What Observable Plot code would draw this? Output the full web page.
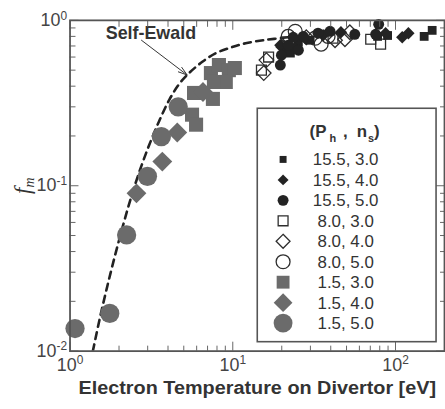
<!DOCTYPE html>
<html><head><meta charset="utf-8">
<script src="https://cdn.jsdelivr.net/npm/d3@7"></script>
<script src="https://cdn.jsdelivr.net/npm/@observablehq/plot@0.6"></script>
<style>
html,body{margin:0;padding:0;background:#fff;overflow:hidden;}
#chart{width:445px;height:409px;overflow:hidden;position:relative;}
</style></head><body><div id="chart"></div>
<script>
// ---- data (Te [eV], f_m) ----
const seriesLabels = ["15.5, 3.0","15.5, 4.0","15.5, 5.0","8.0, 3.0","8.0, 4.0","8.0, 5.0","1.5, 3.0","1.5, 4.0","1.5, 5.0"];
const ph155ns30 = [[150,0.80],[168,0.87],[77.6,0.80],[89.4,0.81],[20.5,0.66],[25.3,0.738],[22.6,0.634],[29.9,0.758]];
const ph155ns40 = [[110,0.79],[120,0.836],[46.2,0.847],[86.9,0.836],[19.6,0.708],[27.9,0.78],[23.9,0.679],[35.9,0.813]];
const ph155ns50 = [[19.6,0.537],[78.8,0.946],[56.2,0.824],[39.6,0.859],[33.4,0.836],[21.9,0.708],[23.5,0.79],[27.1,0.80],[75.5,0.824],[19.9,0.616],[25.3,0.66]];
const ph80ns30 = [[15.0,0.50],[16.6,0.60],[21.3,0.738],[41.3,0.78],[70.4,0.769],[81.0,0.718]];
const ph80ns40 = [[15.5,0.48],[16.1,0.575],[20.5,0.69],[28.3,0.79],[42.5,0.758],[48.9,0.769],[52.4,0.847]];
const ph80ns50 = [[24.2,0.859],[23.5,0.698],[32.1,0.78],[38.5,0.80],[34.9,0.718],[21.9,0.80]];
const ph15ns30 = [[5.78,0.364],[7.55,0.335],[5.62,0.269],[5.95,0.234],[7.34,0.48],[8.22,0.537],[9.46,0.50],[9.06,0.424],[7.66,0.424],[10.3,0.515]];
const ph15ns40 = [[2.56,0.090],[3.69,0.140],[4.56,0.21],[6.56,0.369]];
const ph15ns50 = [[1.073,0.0137],[1.754,0.0169],[2.227,0.0504],[2.99,0.114],[3.64,0.198],[4.62,0.30]];
// Self-Ewald curve
const ewaldT = [1.381,1.524,1.681,1.881,2.105,2.355,2.672,3.074,3.538,4.072,4.685,5.393,6.471,7.877,9.861,12.0,15.45,21.96];
const ewaldF = [0.0100,0.01578,0.02389,0.03721,0.05633,0.08295,0.1222,0.1775,0.2474,0.3308,0.4126,0.4805,0.5595,0.6336,0.6884,0.7273,0.7585,0.7904];
// annotation
const annotText = ["Self-Ewald"];
const annotPos = [[3.14, 0.83]];
const arrowFrom = [[2.748, 0.758]];
const arrowTo = [[5.243, 0.4674]];
// ticks
const xMajor = [1, 10, 100];
const xMinor = [2,3,4,5,6,7,8,9,20,30,40,50,60,70,80,90];
const yMajor = [0.01, 0.1, 1];
const yMinor = [0.02,0.03,0.04,0.05,0.06,0.07,0.08,0.09,0.2,0.3,0.4,0.5,0.6,0.7,0.8,0.9];
const xTitle = "Electron Temperature on Divertor [eV]";

// ---- styles ----
const BLACK = "#232323", GRAY = "#6b6b6b", LINE = "#2e2e2e";
const seriesData = [ph155ns30, ph155ns40, ph155ns50, ph80ns30, ph80ns40, ph80ns50, ph15ns30, ph15ns40, ph15ns50];
const seriesStyle = [
  {symbol:"square",   r:5.0, lr:3.95, fill:BLACK, stroke:"none"},
  {symbol:"diamond2", r:5.6, lr:4.95, fill:BLACK, stroke:"none"},
  {symbol:"circle",   r:5.5, lr:5.5,  fill:BLACK, stroke:"none"},
  {symbol:"square",   r:5.6, lr:5.6,  fill:"none", stroke:LINE},
  {symbol:"diamond2", r:6.6, lr:6.3,  fill:"none", stroke:LINE},
  {symbol:"circle",   r:7.0, lr:7.0,  fill:"none", stroke:LINE},
  {symbol:"square",   r:8.0, lr:7.3,  fill:GRAY, stroke:"none"},
  {symbol:"diamond2", r:9.0, lr:8.5,  fill:GRAY, stroke:"none"},
  {symbol:"circle",   r:9.7, lr:9.5,  fill:GRAY, stroke:"none"}
];

const rows = [];
seriesData.forEach((pts, i) => pts.forEach(([T, f]) => rows.push({T, f, s: i})));
const curve = ewaldT.map((T, i) => ({T, f: ewaldF[i]}));
const annot = annotText.map((t, i) => ({t, T: annotPos[i][0], f: annotPos[i][1]}));
const arrows = arrowFrom.map((a, i) => ({x1: a[0], y1: a[1], x2: arrowTo[i][0], y2: arrowTo[i][1]}));

const tickStyle = {stroke: "#666", strokeWidth: 1};
const supFmt = d => "10^" + Math.round(Math.log10(d));

const dotOrder = [6,7,8,3,4,5,0,1,2];
const chart = Plot.plot({
  width: 448, height: 409,
  marginLeft: 70, marginRight: 1, marginTop: 20, marginBottom: 56,
  x: {type: "log", domain: [1, 200]},
  y: {type: "log", domain: [0.01, 1]},
  style: {fontFamily: "'Liberation Sans', Arial, sans-serif", background: "white", color: "#3a3a3a"},
  marks: [
    Plot.line(curve, {x: "T", y: "f", curve: "catmull-rom", stroke: "#222", strokeWidth: 2.6, strokeDasharray: "7,5.5", clip: true}),
    ...dotOrder.map(i => Plot.dot(rows.filter(d => d.s === i), {
      x: "T", y: "f", symbol: seriesStyle[i].symbol, r: seriesStyle[i].r,
      fill: seriesStyle[i].fill, stroke: seriesStyle[i].stroke, strokeWidth: 1.3
    })),
    Plot.arrow(arrows, {x1: "x1", y1: "y1", x2: "x2", y2: "y2", stroke: "#333", strokeWidth: 1, headLength: 14, headAngle: 35}),
    Plot.text(annot, {x: "T", y: "f", text: "t", fontSize: 18, fontWeight: "bold", fill: "#333", textAnchor: "middle"}),
    // bottom axis
    Plot.axisX({anchor: "bottom", ticks: xMinor, tickSize: -5, tickFormat: () => "", ...tickStyle}),
    Plot.axisX({anchor: "bottom", ticks: xMajor, tickSize: -9, tickFormat: () => "", ...tickStyle}),
    Plot.axisX({anchor: "bottom", ticks: xMajor, tickSize: 0, tickPadding: 7, tickFormat: supFmt, fontSize: 17, fill: "#444", label: null}),
    // top axis
    Plot.axisX({anchor: "top", ticks: xMinor, tickSize: -6, tickFormat: () => "", label: null, ...tickStyle}),
    Plot.axisX({anchor: "top", ticks: xMajor, tickSize: -9, tickFormat: () => "", label: null, ...tickStyle}),
    // left axis
    Plot.axisY({anchor: "left", ticks: yMinor, tickSize: -6, tickFormat: () => "", ...tickStyle}),
    Plot.axisY({anchor: "left", ticks: yMajor, tickSize: -9, tickFormat: () => "", ...tickStyle}),
    Plot.axisY({anchor: "left", ticks: yMajor, tickSize: 0, tickPadding: 3, tickFormat: supFmt, fontSize: 17, fill: "#444", label: null}),
    // right axis
    Plot.axisY({anchor: "right", ticks: yMinor, tickSize: -5, tickFormat: () => "", label: null, ...tickStyle}),
    Plot.axisY({anchor: "right", ticks: yMajor, tickSize: -9, tickFormat: () => "", label: null, ...tickStyle}),
    Plot.frame({stroke: "#555", strokeWidth: 1.8})
  ]
});
document.getElementById("chart").appendChild(chart);

const svg = d3.select(chart);
// superscript tick labels
svg.selectAll('g[aria-label="x-axis tick label"] text, g[aria-label="y-axis tick label"] text').each(function() {
  const t = this.textContent;
  if (!t.includes("^")) return;
  const [b, e] = t.split("^");
  const s = d3.select(this);
  s.text(null);
  s.style("font-size", "18px").attr("fill", "#444");
  s.append("tspan").text(b);
  s.append("tspan").attr("dy", "-0.55em").style("font-size", "12px").text(e);
});
// remove any default axis labels
svg.selectAll('g[aria-label="x-axis label"], g[aria-label="y-axis label"]').remove();

// x title
svg.append("text").attr("x", 259).attr("y", 397).attr("text-anchor", "middle")
  .attr("font-family", "'Liberation Sans', Arial, sans-serif").attr("font-weight", "bold")
  .style("font-size", "19px").attr("fill", "#333")
  .attr("textLength", 360).attr("lengthAdjust", "spacingAndGlyphs").text(xTitle);
// y title f_m
const yt = svg.append("text").attr("transform", "translate(30,187) rotate(-90)").attr("text-anchor", "middle")
  .attr("font-family", "'Liberation Serif', 'Times New Roman', serif").attr("font-style", "italic")
  .style("font-size", "23px").attr("fill", "#333");
yt.append("tspan").text("f");
yt.append("tspan").attr("dy", "0.3em").style("font-size", "14px").text("m");

// legend
const lg = svg.append("g").attr("font-family", "'Liberation Sans', Arial, sans-serif");
lg.append("rect").attr("x", 259).attr("y", 109).attr("width", 180).attr("height", 235)
  .attr("fill", "#fff").attr("stroke", "#555").attr("stroke-width", 1.6);
const hd = lg.append("text").attr("x", 347).attr("y", 138).style("font-size", "17px").attr("font-weight", "bold").attr("fill", "#333");
hd.append("tspan").text("(P");
hd.append("tspan").attr("dx", 3).attr("dy", 5).style("font-size", "11px").text("h");
hd.append("tspan").attr("dx", 7).attr("dy", -5).style("font-size", "17px").text(",");
hd.append("tspan").attr("dx", 9).text("n");
hd.append("tspan").attr("dx", 1).attr("dy", 5).style("font-size", "11px").text("s");
hd.append("tspan").attr("dy", -5).style("font-size", "17px").text(")");
const symMap = {square: d3.symbolSquare, diamond2: d3.symbolDiamond2, circle: d3.symbolCircle};
seriesLabels.forEach((lab, i) => {
  const cy = 160.5 + i * 20.6;
  const st = seriesStyle[i];
  lg.append("path").attr("transform", `translate(285,${cy})`)
    .attr("d", d3.symbol(symMap[st.symbol], st.lr * st.lr * Math.PI)())
    .attr("fill", st.fill).attr("stroke", st.stroke).attr("stroke-width", 1.3);
  lg.append("text").attr("x", 348).attr("y", cy).attr("dy", "0.36em").style("font-size", "17px")
    .attr("fill", "#333").text(lab);
});
</script></body></html>
